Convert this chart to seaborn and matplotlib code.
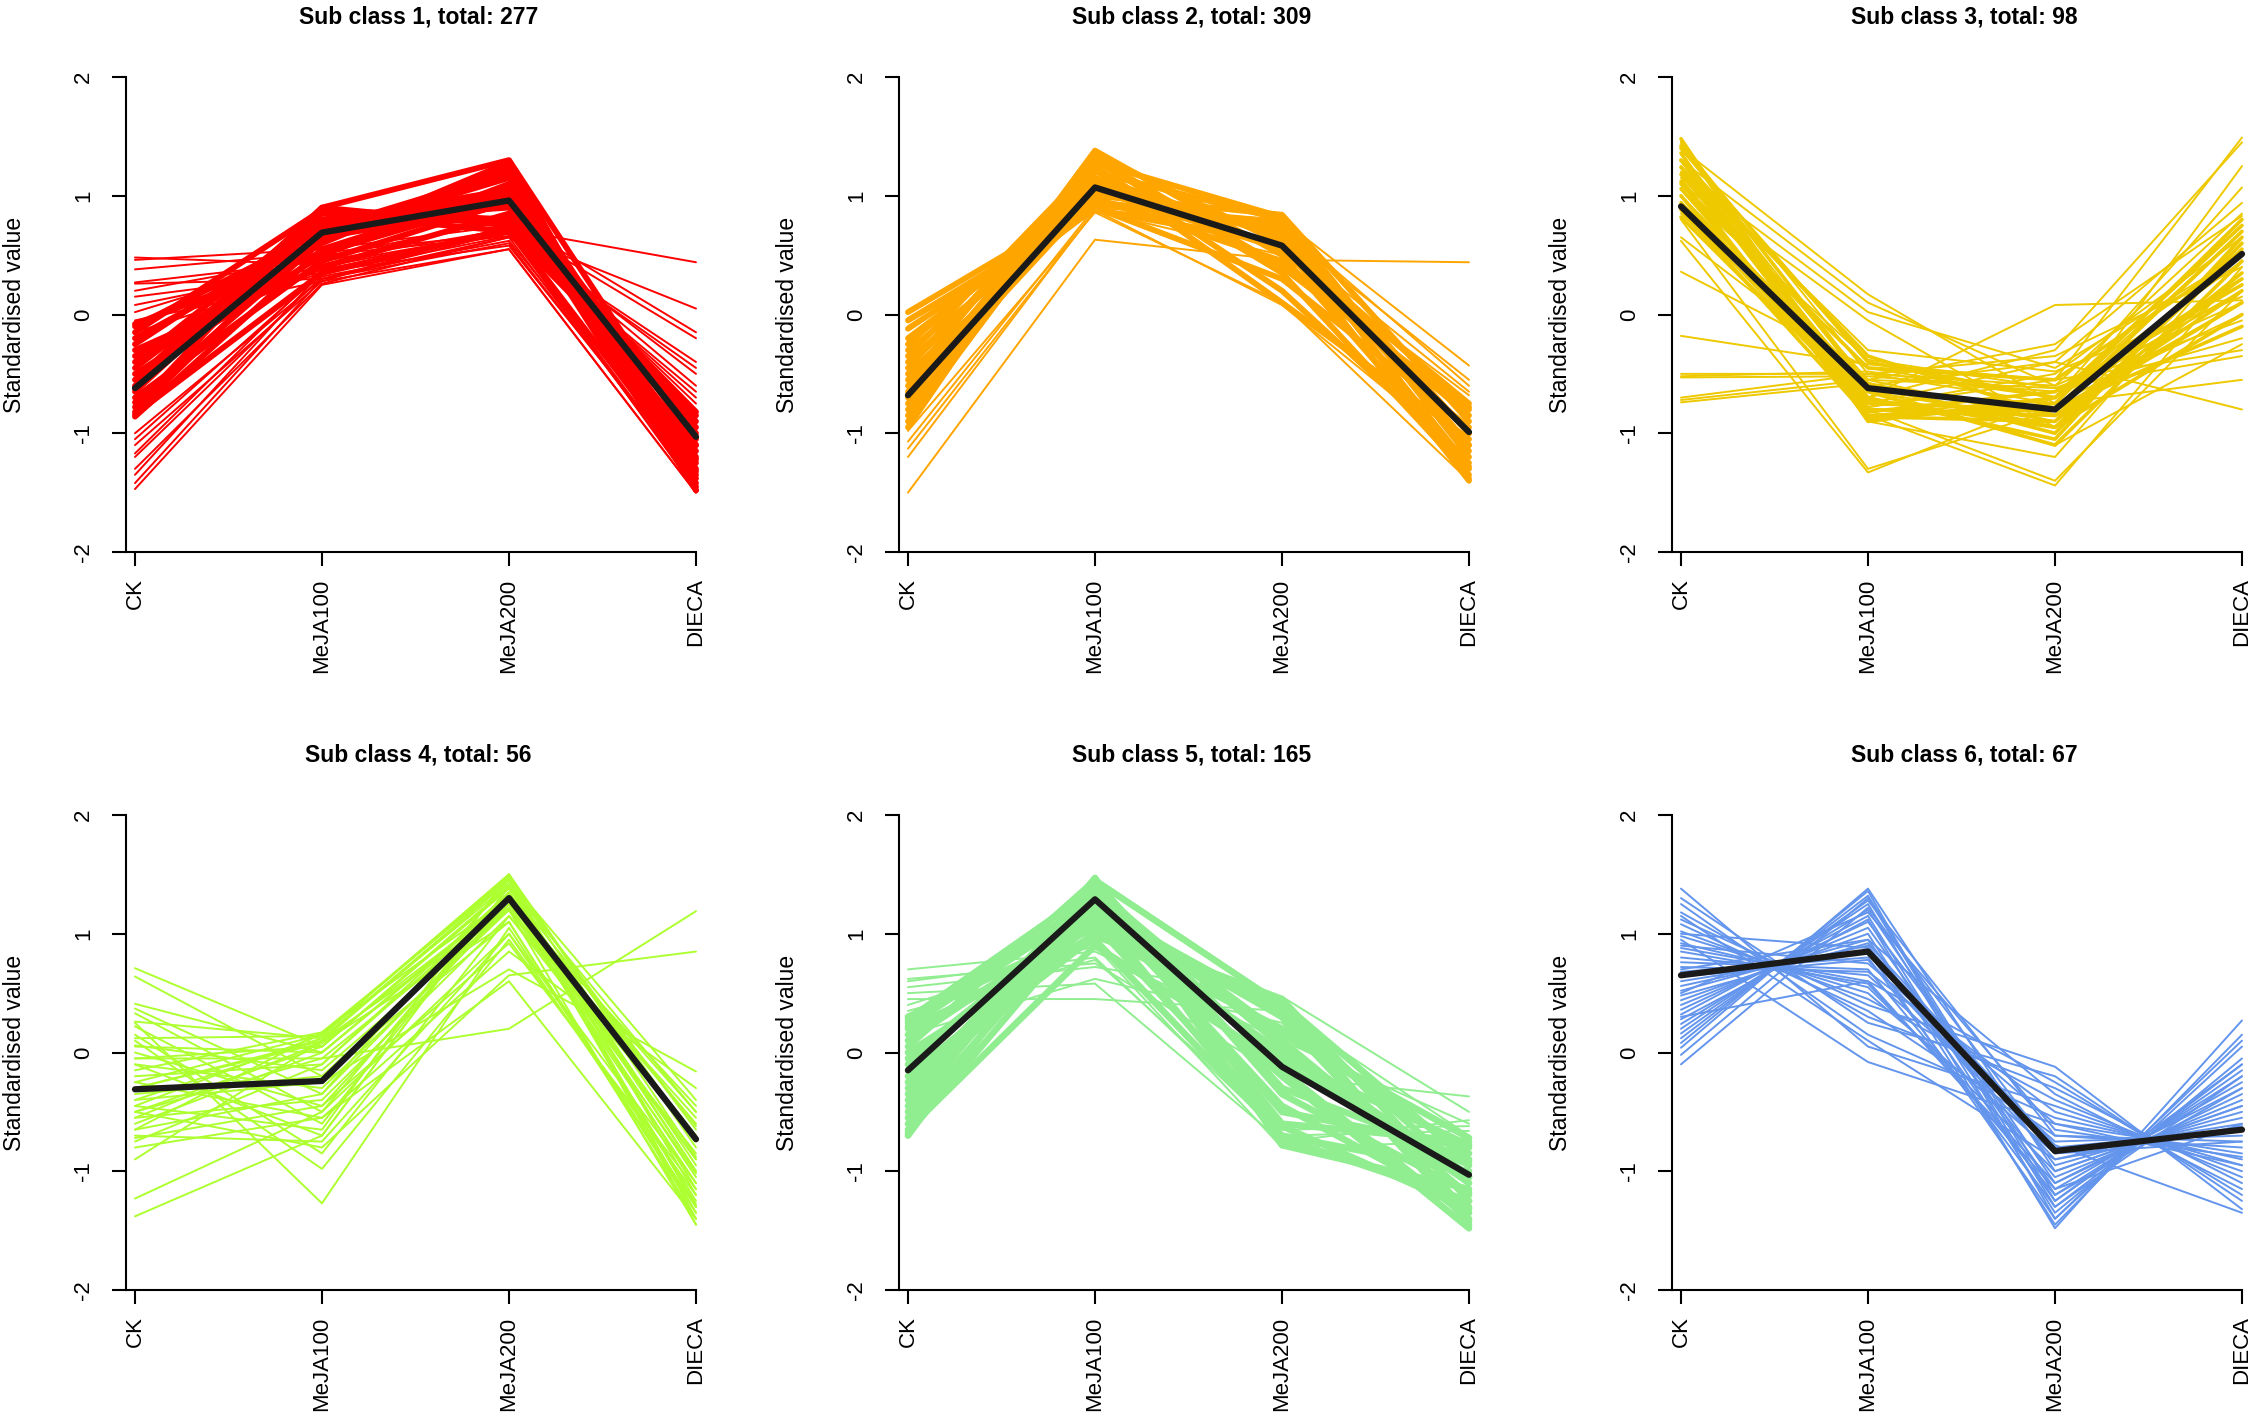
import matplotlib
matplotlib.use("Agg")
import matplotlib.pyplot as plt
import seaborn as sns
import pandas as pd

conditions = ["CK", "MeJA100", "MeJA200", "DIECA"]
titles = ["Sub class 1, total: 277", "Sub class 2, total: 309", "Sub class 3, total: 98",
          "Sub class 4, total: 56", "Sub class 5, total: 165", "Sub class 6, total: 67"]
colours = ["#FF0000", "#FFA500", "#EEC900", "#ADFF2F", "#90EE90", "#6495ED"]

# centroid (mean) profile of every sub class
class_means = [
    [-0.62, 0.69, 0.96, -1.03],
    [-0.68, 1.07, 0.58, -0.99],
    [0.91, -0.62, -0.80, 0.51],
    [-0.31, -0.24, 1.30, -0.73],
    [-0.15, 1.29, -0.12, -1.03],
    [0.65, 0.85, -0.83, -0.65],
]

# densely packed member profiles (drawn thicker so the bundle reads as solid)
sub1_core = [
    [-0.86, 0.55, 1.05, -1.45], [-0.82, 0.72, 1.20, -1.30], [-0.78, 0.88, 0.80, -1.10],
    [-0.74, 0.62, 1.28, -1.48], [-0.70, 0.45, 0.95, -1.25], [-0.65, 0.80, 0.90, -0.95],
    [-0.60, 0.68, 1.15, -1.38], [-0.55, 0.90, 0.75, -0.85], [-0.50, 0.50, 1.10, -1.20],
    [-0.45, 0.75, 1.00, -1.05], [-0.40, 0.85, 0.70, -0.90], [-0.35, 0.60, 1.25, -1.42],
    [-0.30, 0.40, 0.85, -1.15], [-0.25, 0.78, 1.05, -1.00], [-0.20, 0.65, 0.92, -1.32],
    [-0.15, 0.88, 0.78, -0.82], [-0.10, 0.70, 1.18, -1.22], [-0.08, 0.52, 0.98, -1.48],
    [-0.84, 0.35, 0.72, -1.35], [-0.62, 0.90, 1.30, -1.10],
]
sub1_lines = [
    [0.48, 0.42, 0.70, -0.50], [0.46, 0.55, 0.75, -0.20], [0.38, 0.52, 0.68, 0.05],
    [0.27, 0.45, 0.72, 0.44], [0.26, 0.30, 0.65, -0.40], [0.20, 0.48, 0.80, -0.15],
    [0.15, 0.35, 0.72, -0.60], [0.08, 0.40, 0.70, -0.70], [0.02, 0.50, 0.66, -0.65],
    [-1.00, 0.30, 0.60, -1.40], [-1.05, 0.35, 0.72, -1.35], [-1.10, 0.28, 0.55, -1.50],
    [-1.17, 0.38, 0.68, -1.42], [-1.20, 0.32, 0.62, -1.30], [-1.30, 0.26, 0.65, -1.45],
    [-1.35, 0.36, 0.58, -1.38], [-1.42, 0.30, 0.70, -1.48], [-1.47, 0.25, 0.55, -1.50],
    [-0.05, 0.28, 0.75, -0.75], [-0.15, 0.35, 0.66, -0.45],
]

sub2_core = [
    [-0.95, 1.35, 0.60, -1.40], [-0.90, 1.20, 0.80, -1.20], [-0.85, 1.30, 0.35, -1.35],
    [-0.80, 1.10, 0.70, -1.00], [-0.75, 1.38, 0.50, -1.30], [-0.70, 1.00, 0.84, -0.90],
    [-0.65, 1.25, 0.20, -1.25], [-0.60, 1.15, 0.65, -1.10], [-0.55, 1.32, 0.40, -0.80],
    [-0.50, 0.95, 0.75, -1.38], [-0.45, 1.22, 0.10, -1.05], [-0.40, 1.05, 0.55, -0.75],
    [-0.35, 1.28, 0.82, -1.15], [-0.30, 0.90, 0.30, -0.95], [-0.25, 1.12, 0.68, -1.28],
    [-0.20, 0.98, 0.45, -0.85], [-0.12, 0.92, 0.78, -1.10], [-0.05, 0.88, 0.60, -0.78],
    [0.02, 0.95, 0.72, -1.00],
]
sub2_lines = [
    [0.03, 0.90, 0.80, -0.43], [-0.03, 0.93, 0.70, -0.55], [-0.10, 0.88, 0.76, -0.60],
    [-1.07, 0.90, 0.62, -0.65], [-1.13, 0.87, 0.50, -0.68], [-1.20, 0.88, 0.08, -1.20],
    [-1.50, 0.63, 0.46, 0.44], [-0.98, 0.86, 0.10, -1.40],
]

sub3_core = [
    [1.48, -0.85, -0.80, 0.70], [1.42, -0.60, -0.95, 0.55], [1.36, -0.90, -0.70, 0.30],
    [1.30, -0.70, -1.05, 0.65], [1.24, -0.80, -0.85, 0.10], [1.18, -0.65, -1.10, 0.45],
    [1.12, -0.88, -0.75, 0.80], [1.06, -0.72, -0.95, 0.00], [1.00, -0.82, -0.65, 0.25],
    [0.94, -0.58, -1.00, 0.60], [0.88, -0.86, -0.90, 0.35], [0.82, -0.75, -0.80, -0.10],
    [1.40, -0.40, -0.70, 0.75], [1.10, -0.45, -0.55, 0.50], [1.30, -0.35, -0.85, 0.20],
]
sub3_lines = [
    [-0.18, -0.42, -0.55, -0.30], [-0.50, -0.50, -0.60, 0.10], [-0.52, -0.48, -0.70, 0.20],
    [-0.53, -0.52, -0.65, -0.20], [-0.70, -0.50, -0.75, 0.00], [-0.72, -0.55, -0.62, -0.35],
    [-0.74, -0.58, -0.85, 0.30], [0.36, -0.45, -0.70, 0.45], [0.65, -0.55, -0.90, 0.60],
    [1.40, 0.17, -0.75, 0.70], [1.30, 0.10, -0.60, 0.85], [1.20, 0.02, -0.45, 0.50],
    [1.10, -0.05, -0.95, 0.30], [0.62, -1.33, -0.70, 0.20], [0.80, -1.30, -0.80, 0.10],
    [1.00, -0.70, 0.08, 0.12], [1.45, -0.78, -0.55, 1.49], [1.35, -0.70, -0.30, 1.45],
    [1.25, -0.65, -0.90, 1.25], [1.15, -0.85, -0.70, 1.07], [0.95, -0.75, -0.40, 0.94],
    [1.30, -0.85, -1.44, 0.40], [1.10, -0.80, -1.40, 0.20], [1.45, -0.90, -1.20, 0.60],
    [1.00, -0.60, -0.40, -0.80], [0.85, -0.65, -0.75, -0.55], [1.20, -0.55, -0.25, 0.83],
    [1.35, -0.62, -1.10, -0.25], [0.90, -0.78, -0.50, 0.65], [1.25, -0.30, -0.48, 0.15],
    [1.05, -0.38, -0.62, -0.05], [1.45, -0.50, -0.35, 0.40],
]

sub4_core = []
sub4_lines = [
    [0.71, 0.05, 1.40, -1.00], [0.64, -0.20, 1.10, -1.40], [0.41, 0.00, 1.30, -0.90],
    [0.37, -0.35, 1.25, -0.60], [0.33, -0.50, 1.00, -1.30], [0.26, 0.12, 1.45, -0.40],
    [0.25, -1.27, 1.05, -1.30], [0.22, -0.60, 1.35, -0.75], [0.10, -0.98, 0.95, -1.20],
    [0.06, -0.15, 1.20, -1.45], [0.00, -0.45, 0.92, -1.15], [-0.05, -0.05, 0.20, 1.19],
    [-0.10, -0.70, 1.40, -0.50], [-0.15, 0.17, 1.30, -1.05], [-0.25, -0.55, 0.85, -0.30],
    [-0.40, -0.25, 0.70, -0.16], [-0.45, -0.65, 1.50, -0.80], [-0.50, -0.80, 0.65, 0.85],
    [-0.55, 0.08, 1.10, -1.35], [-0.65, -0.35, 1.45, -0.65], [-0.70, -0.75, 1.00, -1.10],
    [-0.75, -0.10, 1.30, -1.25], [-0.80, -0.55, 0.60, -1.40], [-0.90, 0.10, 1.20, -0.90],
    [-1.23, -0.50, 1.35, -1.00], [-1.38, -0.70, 1.40, -1.30], [-0.72, -0.45, 1.25, -0.45],
    [0.15, -0.85, 1.15, -0.70],
    [-0.45, 0.15, 1.50, -1.45], [-0.30, 0.10, 1.45, -1.20], [-0.50, 0.05, 1.40, -0.95],
    [-0.20, -0.10, 1.35, -1.35], [-0.60, 0.00, 1.30, -0.70], [-0.35, -0.20, 1.25, -1.10],
    [-0.10, -0.30, 1.20, -0.55], [-0.55, -0.40, 1.15, -0.85],
    [-0.25, 0.15, 1.48, -1.40], [-0.40, 0.12, 1.42, -1.15], [-0.05, 0.05, 1.38, -0.62],
    [-0.65, 0.17, 1.46, -0.88], [0.05, 0.00, 1.32, -1.28], [-0.30, 0.08, 1.28, -0.50],
    [-0.50, -0.05, 1.22, -1.02], [0.12, 0.14, 1.50, -0.75],
]

sub5_core = [
    [-0.70, 1.45, 0.40, -1.45], [-0.60, 1.30, 0.10, -1.20], [-0.50, 1.40, -0.30, -0.90],
    [-0.40, 1.20, 0.30, -1.35], [-0.30, 1.35, -0.60, -0.75], [-0.20, 1.10, 0.00, -1.10],
    [-0.10, 1.25, -0.45, -1.30], [0.00, 1.00, 0.20, -0.85], [0.10, 1.15, -0.20, -1.48],
    [0.20, 0.95, -0.70, -1.00], [0.30, 1.05, 0.45, -1.25], [-0.65, 0.90, -0.10, -0.95],
    [-0.45, 1.47, -0.78, -1.15], [0.25, 1.30, -0.50, -0.80],
    [-0.55, 1.22, 0.35, -1.05], [-0.35, 1.42, -0.15, -1.40], [-0.15, 1.32, 0.15, -0.72],
    [0.05, 1.45, -0.35, -1.18], [0.15, 1.08, -0.62, -1.32], [-0.25, 0.98, 0.42, -0.92],
    [0.28, 1.38, 0.05, -1.05], [-0.68, 1.18, -0.72, -1.25], [-0.05, 1.20, -0.05, -0.78],
    [0.22, 1.25, 0.30, -1.42],
]
sub5_lines = [
    [0.70, 0.85, 0.10, -0.60], [0.62, 0.75, -0.20, -0.37], [0.60, 0.80, -0.70, -0.66],
    [0.55, 0.72, 0.47, -0.50], [0.50, 0.58, -0.75, -0.57], [0.45, 0.45, 0.35, -0.70],
    [0.40, 0.90, -0.80, -0.75], [0.35, 0.78, -0.65, -0.62], [0.15, 0.62, 0.25, -1.40],
]

sub6_core = []
sub6_lines = [
    [1.38, 0.05, -0.45, -1.00], [1.30, 0.25, -0.20, -1.25], [1.25, 0.15, -0.55, -0.90],
    [1.18, 0.30, -0.30, -1.10], [1.12, 0.40, -0.12, -1.32], [1.08, 0.35, -0.70, -0.75],
    [1.02, 0.45, -0.40, -1.05], [0.98, 0.50, -0.85, -0.60], [0.95, -0.08, -0.60, -0.95],
    [0.92, 0.55, -1.00, -0.45], [0.88, 0.60, -0.25, -1.20], [0.85, 0.58, -1.10, -0.30],
    [0.80, 0.65, -0.75, -0.70], [0.76, 0.70, -1.20, -0.20], [0.72, 0.68, -0.50, -0.95],
    [0.68, 0.80, -1.30, -0.10], [0.64, 0.78, -0.90, -0.55], [0.60, 0.85, -1.40, 0.05],
    [0.56, 0.90, -1.05, -0.40], [0.52, 0.95, -1.25, -0.15], [0.48, 0.92, -0.80, -0.65],
    [0.44, 1.00, -1.45, 0.15], [0.40, 1.05, -1.15, -0.25], [0.36, 1.10, -0.95, -0.50],
    [0.32, 1.15, -1.35, -0.05], [0.28, 1.12, -1.48, 0.27], [0.24, 1.20, -1.10, -0.35],
    [0.20, 1.25, -1.30, -0.20], [0.16, 1.28, -0.70, -0.80], [0.12, 1.32, -1.20, -0.30],
    [0.08, 1.36, -1.40, 0.10], [0.04, 1.38, -1.00, -0.45], [-0.02, 1.30, -1.25, -0.10],
    [-0.10, 1.22, -0.85, -0.75], [0.90, 0.75, -0.60, -0.85], [0.70, 0.95, -0.35, -1.15],
    [1.15, 0.10, -0.90, -0.62], [0.50, 1.18, -0.65, -0.88], [0.30, 0.60, -1.15, -0.60],
    [1.00, 0.88, -0.78, -1.35],
]

all_core = [sub1_core, sub2_core, sub3_core, sub4_core, sub5_core, sub6_core]
all_lines = [sub1_lines, sub2_lines, sub3_lines, sub4_lines, sub5_lines, sub6_lines]
core_width = [4.2, 4.2, 2.6, 2.2, 4.8, 2.0]


def to_long(profiles):
    rows = []
    for g, vals in enumerate(profiles):
        for pos, v in enumerate(vals, start=1):
            rows.append((g, pos, v))
    return pd.DataFrame(rows, columns=["gene", "pos", "value"])


sns.set_style("ticks")
plt.rcParams["font.family"] = ["Liberation Sans", "DejaVu Sans"]
plt.rcParams.update({"text.color": "black", "axes.labelcolor": "black",
                     "xtick.color": "black", "ytick.color": "black",
                     "axes.edgecolor": "black"})

W, H = 2257, 1421
fig = plt.figure(figsize=(W / 100, H / 100), dpi=100)

col_x = [126, 899, 1672]
row_top = [77, 815]
ax_w, ax_h = 570, 475

for i in range(6):
    r, c = divmod(i, 3)
    ax = fig.add_axes([col_x[c] / W, 1 - (row_top[r] + ax_h) / H, ax_w / W, ax_h / H])

    if all_core[i]:
        sns.lineplot(data=to_long(all_core[i]), x="pos", y="value", units="gene",
                     estimator=None, color=colours[i], lw=core_width[i], ax=ax,
                     legend=False, sort=False, clip_on=False)
    sns.lineplot(data=to_long(all_lines[i]), x="pos", y="value", units="gene",
                 estimator=None, color=colours[i], lw=1.4, ax=ax, legend=False,
                 sort=False, clip_on=False)
    mean_df = pd.DataFrame({"pos": [1, 2, 3, 4], "value": class_means[i]})
    sns.lineplot(data=mean_df, x="pos", y="value", color="#1a1a1a", lw=4.5, ax=ax,
                 legend=False, sort=False, clip_on=False, solid_capstyle="round")

    ax.set_xlim(0.952, 4.0)
    ax.set_ylim(-2, 2)
    sns.despine(ax=ax)
    for s in ("left", "bottom"):
        ax.spines[s].set_linewidth(1.5)
        ax.spines[s].set_color("black")
    ax.set_xticks([1, 2, 3, 4])
    ax.set_xticklabels(conditions, rotation=90, fontsize=16)
    ax.set_yticks([-2, -1, 0, 1, 2])
    ax.set_yticklabels(["-2", "-1", "0", "1", "2"], rotation=90, va="center", fontsize=16)
    ax.tick_params(axis="both", length=10, width=1.5, color="black", labelcolor="black")
    ax.tick_params(axis="y", pad=13)
    ax.tick_params(axis="x", pad=9)
    ax.set_xlabel("")
    ax.set_ylabel("Standardised value", fontsize=16.5, color="black")
    ax.yaxis.set_label_coords(-0.175, 0.5)
    ax.text(0.513, 1.127, titles[i], transform=ax.transAxes, ha="center", va="center",
            fontsize=16.5, fontweight="bold", color="black")

fig.savefig("out.png", dpi=100)
